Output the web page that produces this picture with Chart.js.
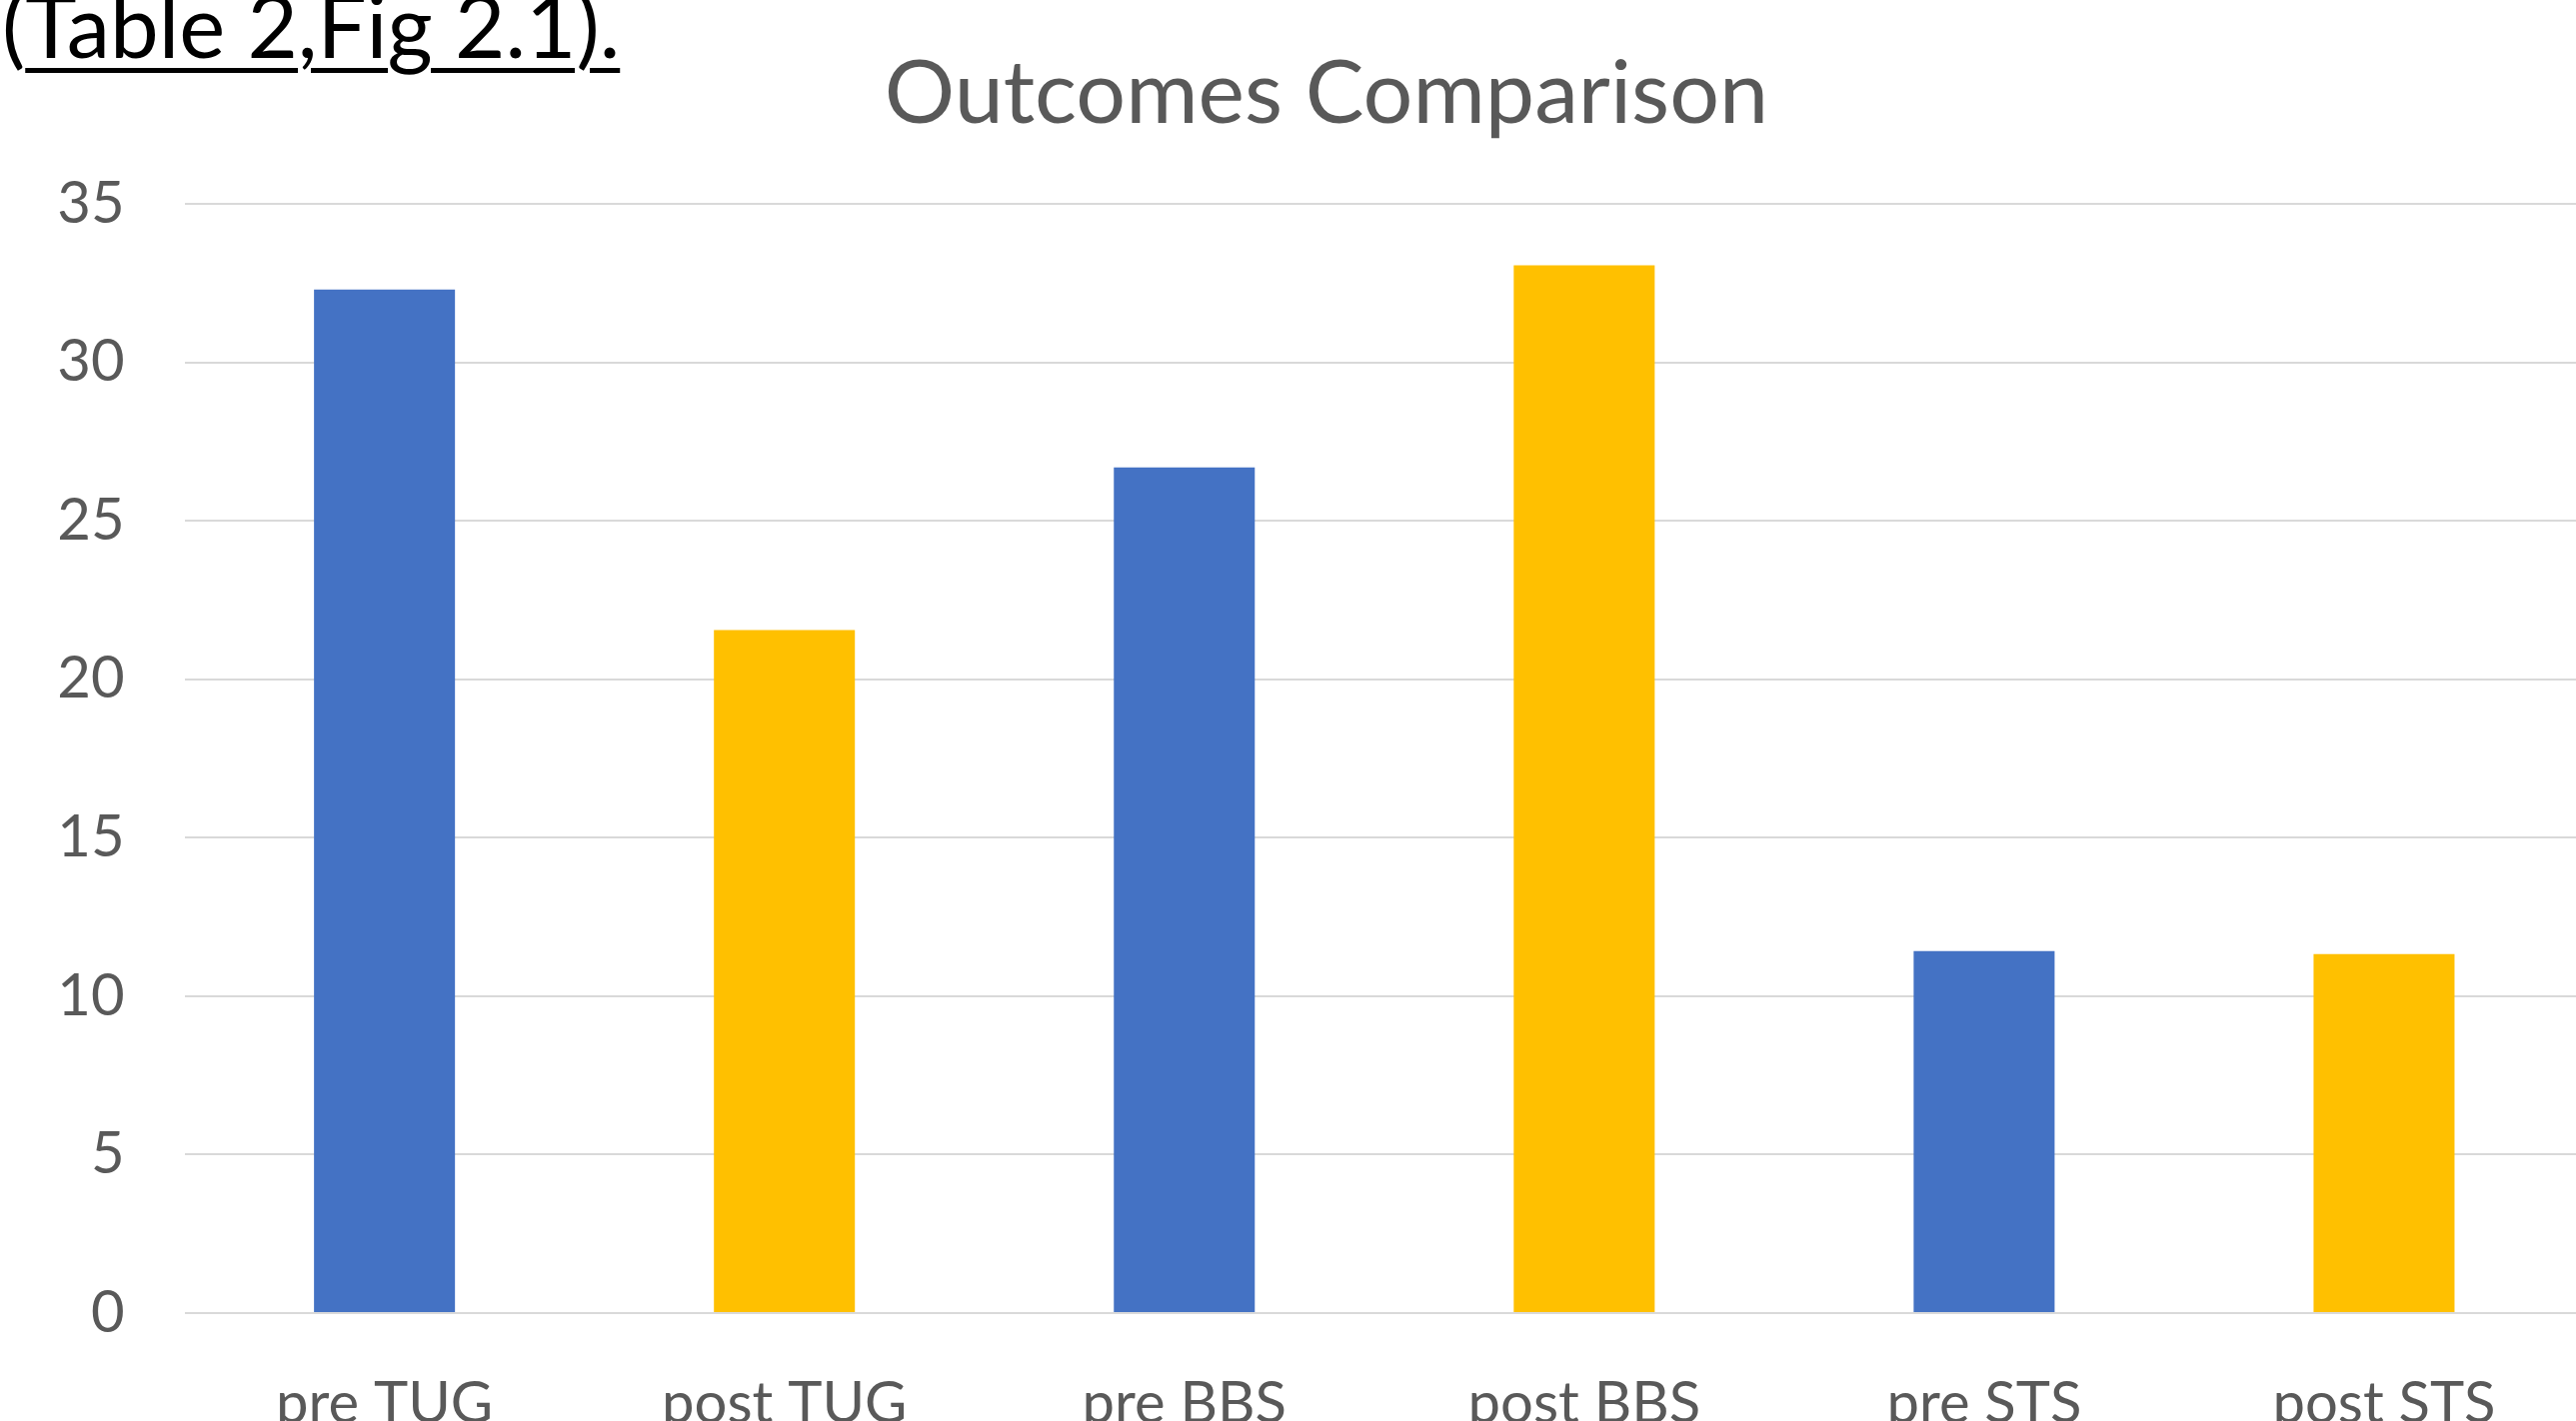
<!DOCTYPE html>
<html>
<head>
<meta charset="utf-8">
<script src="https://cdn.jsdelivr.net/npm/chart.js@4"></script>
<style>
  html, body { margin: 0; padding: 0; background: #fff; overflow: hidden; width: 2577px; height: 1422px; }
  #wrap { position: absolute; left: 0; top: 0; width: 2585px; height: 1422px; }
  #note { position: absolute; left: 2px; top: -19px; font-family: Lato, sans-serif; font-size: 87px; line-height: 1; color: #000; white-space: nowrap; }
  #note u { text-decoration-thickness: 5px; text-underline-offset: 10px; }
  #title { position: absolute; left: 0; width: 2654px; top: 45px; text-align: center; font-family: Lato, sans-serif; font-size: 88px; line-height: 1; color: #595959; white-space: nowrap; }
</style>
</head>
<body>
<div id="wrap"><canvas id="Chart" width="2585" height="1422"></canvas></div>
<div id="note">(<u>Table 2,Fig 2.1).</u></div>
<div id="title">Outcomes Comparison</div>
<script>
var labels = ["pre TUG", "post TUG", "pre BBS", "post BBS", "pre STS", "post STS"];
var scores = [32.3, 21.55, 26.68, 33.06, 11.42, 11.33];
var colors = ["#4472C4", "#FFC000", "#4472C4", "#FFC000", "#4472C4", "#FFC000"];
var yTicks = [0, 5, 10, 15, 20, 25, 30, 35];

var ctx = document.getElementById("Chart").getContext("2d");
var barChart = new Chart(ctx, {
    type: 'bar',
    data: {
        labels: labels,
        datasets: [{
            label: 'Outcomes',
            data: scores,
            backgroundColor: colors,
            borderWidth: 0,
            barPercentage: 0.3525,
            categoryPercentage: 1
        }]
    },
    options: {
        responsive: false,
        animation: false,
        layout: { padding: { top: 204, left: 0, right: 0, bottom: 0 } },
        plugins: {
            legend: { display: false },
            title: { display: false },
            tooltip: { enabled: false }
        },
        scales: {
            x: {
                grid: { display: false },
                border: { display: false },
                ticks: {
                    color: '#595959',
                    padding: 48,
                    maxRotation: 0,
                    autoSkip: false,
                    font: { family: 'Lato', size: 58 }
                },
                afterFit: function(scale) { scale.height = 108; }
            },
            y: {
                min: 0,
                max: 35,
                afterBuildTicks: function(scale) {
                    scale.ticks = yTicks.map(function(v) { return { value: v }; });
                },
                grid: { color: '#d9d9d9', lineWidth: 2, drawTicks: false },
                border: { display: false },
                ticks: {
                    color: '#595959',
                    padding: 60,
                    font: { family: 'Lato', size: 58 }
                },
                afterFit: function(scale) { scale.width = 184.6; }
            }
        }
    }
});
</script>
</body>
</html>
